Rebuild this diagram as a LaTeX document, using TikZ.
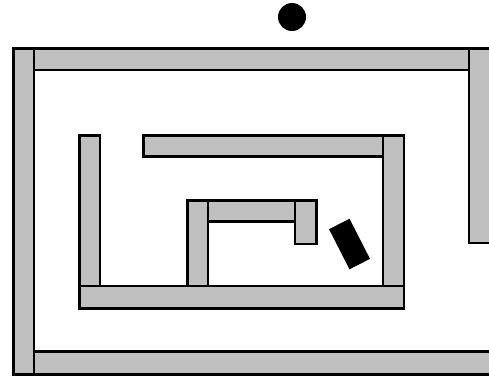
\documentclass[tikz,border=0pt]{standalone}
\usepackage{xcolor}
\definecolor{wallgray}{HTML}{C0C0C0}
\usetikzlibrary{positioning}

\begin{document}
\begin{tikzpicture}[
		x=1pt, y=-1pt,
		wall/.style={
			fill=wallgray,
			draw=black,
			line width=2.6pt,
		},
		robot/.style={
			rectangle,
			fill=black,
			minimum width=23pt,
			minimum height=45pt,
			inner sep=0pt,
		},
		ball/.style={
			circle,
			fill=black,
			minimum size=28pt,
			inner sep=0pt,
		},
		]
		\useasboundingbox (0,0) rectangle (489,376);
		\clip (0,0) rectangle (489,376);
		
		% outer walls
		\draw[wall] (13.5,48.5) rectangle (34,374.5);
		\draw[wall] (34,48.5) rectangle (469,70);
		\draw[wall] (469,48.5) rectangle (495,243);
		\draw[wall] (34,351.5) rectangle (495,374.5);
		
		% inner ring
		\draw[wall] (79.5,135.5) rectangle (100,286);
		\draw[wall] (143.5,135.5) rectangle (383,156.5);
		\draw[wall] (383,135.5) rectangle (404,286);
		\draw[wall] (79.5,286) rectangle (404,308.5);
		
		% innermost hook
		\draw[wall] (187.5,200.5) rectangle (208,286);
		\draw[wall] (208,200.5) rectangle (295,221.5);
		\draw[wall] (295,200.5) rectangle (316.5,244);
		
		\node[robot, rotate=27] (bot) at (349.5,244) {};
		\node[ball] (target) at (292,17) {};
\end{tikzpicture}
\end{document}
